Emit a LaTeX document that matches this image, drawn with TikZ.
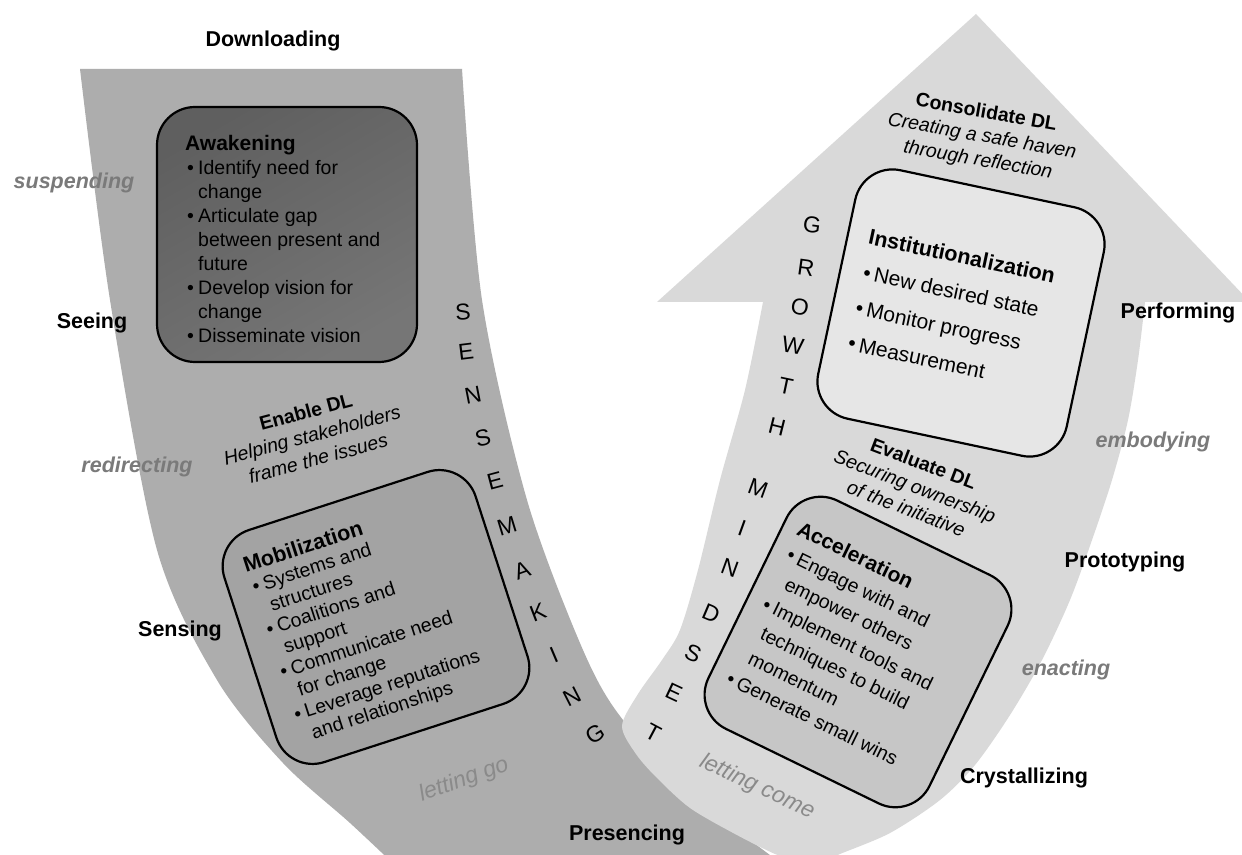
\documentclass[tikz,border=0pt]{standalone}
\usepackage{fontspec}
\setmainfont{Liberation Sans}
\definecolor{bandA}{HTML}{ADADAD}
\definecolor{bandB}{HTML}{D9D9D9}
\definecolor{awakefill}{HTML}{6A6A6A}
\definecolor{mobfill}{HTML}{A3A3A3}
\definecolor{instfill}{HTML}{E6E6E6}
\definecolor{accfill}{HTML}{C6C6C6}
\definecolor{modegray}{HTML}{7A7A7A}
\definecolor{flowgray}{HTML}{8A8A8A}
\newcommand{\stagebullet}{\hspace*{2pt}\makebox[11pt][l]{•}}
\newcommand{\stageindent}{\hspace*{13pt}}
\begin{document}
\begin{tikzpicture}[x=1pt,y=1pt,
  stagebox/.style={draw=black, line width=2.2pt, rounded corners=38pt, inner sep=0pt},
  phase/.style={font=\fontsize{21.5}{26}\selectfont\bfseries, text=black, inner sep=0pt},
  mode/.style={font=\fontsize{21.5}{26}\selectfont\bfseries\itshape, text=modegray, inner sep=0pt},
  flow/.style={font=\fontsize{23}{28}\selectfont\itshape, text=flowgray, inner sep=0pt},
  dl/.style={align=center, font=\fontsize{19.5}{24}\selectfont, inner sep=0pt},
  letter/.style={font=\fontsize{23}{23}\selectfont, inner sep=0pt},
  stagetext/.style={align=left, anchor=north west, inner sep=0pt}
]
\useasboundingbox (0,0) rectangle (1242,854);
\fill[white] (0,0) rectangle (1242,854);
\clip (0,0) rectangle (1242,854);

% left band (dark), running down from the top edge
\fill[bandA] (80,785) -- (462,785)
  -- plot[smooth] coordinates {(462,785) (482,554) (527,354) (583,204) (623,134) (700,54) (790,-16)}
  -- (400,-16)
  -- plot[smooth] coordinates {(400,-16) (350,31) (283,91) (217,174) (157,304) (110,554) (80,785)}
  -- cycle;

% right band (light) ending in the arrow head
\fill[bandB] (763,552) -- (657,552) -- (976,840) -- (1250,552) -- (1145,552)
  -- plot[smooth] coordinates {(1145,552) (1138,494) (1128,434) (1112,374) (1092,314) (1070,254) (1042,194) (1010,139) (975,89) (940,54) (890,21) (840,0) (822,-8)}
  -- (800,-8)
  -- plot[smooth] coordinates {(800,-8) (775,0) (735,20) (690,46) (657,76) (636,100) (622,128) (638,160) (662,194) (680,224) (698,284) (720,374) (745,464) (763,552)}
  -- cycle;

% stage boxes
\node[stagebox, top color=awakefill!90!black, bottom color=awakefill!92!white, shading angle=30, minimum width=260pt, minimum height=255pt] (awake) at (287,619.5) {};
\node[stagetext, font=\fontsize{19.5}{24}\selectfont] (awaketext) at (185,719)
  {{\fontsize{21}{24}\selectfont\bfseries Awakening}\\
   \stagebullet Identify need for\\
   \stageindent change\\
   \stagebullet Articulate gap\\
   \stageindent between present and\\
   \stageindent future\\
   \stagebullet Develop vision for\\
   \stageindent change\\
   \stagebullet Disseminate vision};

\begin{scope}[shift={(376,237)}, rotate=18, transform shape]
\node[stagebox, fill=mobfill, minimum width=264pt, minimum height=244pt] (mob) at (0,0) {};
\node[stagetext, font=\fontsize{19.5}{22.4}\selectfont] (mobtext) at (-110,98)
  {{\fontsize{21.5}{22.4}\selectfont\bfseries Mobilization}\\
   \stagebullet Systems and\\
   \stageindent structures\\
   \stagebullet Coalitions and\\
   \stageindent support\\
   \stagebullet Communicate need\\
   \stageindent for change\\
   \stagebullet Leverage reputations\\
   \stageindent and relationships};
\end{scope}

\begin{scope}[shift={(961,541)}, rotate=-12, transform shape]
\node[stagebox, fill=instfill, minimum width=254pt, minimum height=254pt] (inst) at (0,0) {};
\node[stagetext, font=\fontsize{21}{36}\selectfont] (insttext) at (-106,64)
  {{\fontsize{21.5}{36}\selectfont\bfseries Institutionalization}\\
   \stagebullet New desired state\\
   \stagebullet Monitor progress\\
   \stagebullet Measurement};
\end{scope}

\begin{scope}[shift={(858,202)}, rotate=-26, transform shape]
\node[stagebox, fill=accfill, minimum width=246pt, minimum height=254pt] (acc) at (0,0) {};
\node[stagetext, font=\fontsize{19.5}{27.5}\selectfont] (acctext) at (-108,94)
  {{\fontsize{21}{27.5}\selectfont\bfseries Acceleration}\\
   \stagebullet Engage with and\\
   \stageindent empower others\\
   \stagebullet Implement tools and\\
   \stageindent techniques to build\\
   \stageindent momentum\\
   \stagebullet Generate small wins};
\end{scope}

% leadership notes
\node[dl, rotate=15] (enable) at (312,419)
  {\textbf{Enable DL}\\ \textit{Helping stakeholders}\\ \textit{frame the issues}};
\node[dl, rotate=-10] (consolidate) at (982,717)
  {\textbf{Consolidate DL}\\ \textit{Creating a safe haven}\\ \textit{through reflection}};
\node[dl, rotate=-21] (evaluate) at (915,368)
  {\textbf{Evaluate DL}\\ \textit{Securing ownership}\\ \textit{of the initiative}};

% U-process phases
\node[phase] (downloading) at (273,813) {Downloading};
\node[phase] (seeing) at (92,531) {Seeing};
\node[phase] (sensing) at (180,223) {Sensing};
\node[phase] (presencing) at (627,19) {Presencing};
\node[phase] (crystallizing) at (1024,76) {Crystallizing};
\node[phase] (prototyping) at (1125,292) {Prototyping};
\node[phase] (performing) at (1178,541) {Performing};

\node[mode] (suspending) at (74,671) {suspending};
\node[mode] (redirecting) at (137,387) {redirecting};
\node[mode] (enacting) at (1066,184) {enacting};
\node[mode] (embodying) at (1153,412) {embodying};

\node[flow, rotate=20] (lettinggo) at (464,74) {letting go};
\node[flow, rotate=-25] (lettingcome) at (757,67) {letting come};

% SENSEMAKING down the left band
\node[letter, rotate=4]  (sm1)  at (463,542) {S};
\node[letter, rotate=7]  (sm2)  at (466,502) {E};
\node[letter, rotate=11] (sm3)  at (473,459) {N};
\node[letter, rotate=14] (sm4)  at (483,416) {S};
\node[letter, rotate=15] (sm5)  at (495,373) {E};
\node[letter, rotate=17] (sm6)  at (507,328) {M};
\node[letter, rotate=20] (sm7)  at (522,284) {A};
\node[letter, rotate=21] (sm8)  at (538,242) {K};
\node[letter, rotate=23] (sm9)  at (554,199) {I};
\node[letter, rotate=27] (sm10) at (572,157) {N};
\node[letter, rotate=32] (sm11) at (595,120) {G};

% GROWTH MINDSET up the right band
\node[letter, rotate=-8]  (gm1)  at (812,629) {G};
\node[letter, rotate=-8]  (gm2)  at (806,586) {R};
\node[letter, rotate=-9]  (gm3)  at (800,547) {O};
\node[letter, rotate=-10] (gm4)  at (793,508) {W};
\node[letter, rotate=-12] (gm5)  at (786,468) {T};
\node[letter, rotate=-14] (gm6)  at (777,427) {H};
\node[letter, rotate=-20] (gm7)  at (758,366) {M};
\node[letter, rotate=-20] (gm8)  at (742,326) {I};
\node[letter, rotate=-20] (gm9)  at (730,286) {N};
\node[letter, rotate=-23] (gm10) at (711,241) {D};
\node[letter, rotate=-24] (gm11) at (693,201) {S};
\node[letter, rotate=-25] (gm12) at (674,161) {E};
\node[letter, rotate=-28] (gm13) at (653,121) {T};
\end{tikzpicture}
\end{document}
